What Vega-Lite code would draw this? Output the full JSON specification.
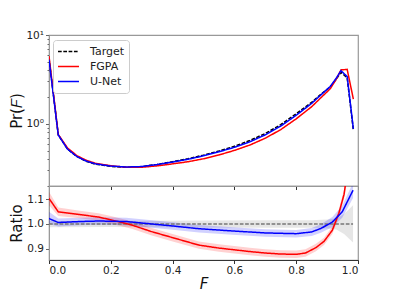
{
  "$schema": "https://vega.github.io/schema/vega-lite/v6.json",
  "padding": {"left": 8, "top": 29, "right": 5, "bottom": 2},
  "spacing": 0,
  "bounds": "flush",
  "background": "white",
  "config": {
    "font": "DejaVu Sans",
    "view": {"stroke": "#999999", "strokeWidth": 1.2},
    "axis": {
      "grid": false,
      "labelFont": "DejaVu Sans",
      "titleFont": "DejaVu Sans",
      "labelFontSize": 10.5,
      "labelColor": "#222222",
      "titleFontSize": 15,
      "titleFontWeight": "normal",
      "titleColor": "#111111",
      "domainColor": "#333333",
      "tickColor": "#333333",
      "tickSize": 3.5,
      "labelPadding": 2,
      "labelOverlap": false
    }
  },
  "resolve": {"scale": {"color": "independent", "strokeDash": "independent"}, "legend": {"color": "independent", "strokeDash": "independent"}},
  "datasets": {
    "pdf": [
      {"F": 0, "series": "Target", "Pr": 5.5}, {"F": 0, "series": "FGPA", "Pr": 5.8}, {"F": 0, "series": "U-Net", "Pr": 5.3},
      {"F": 0.03, "series": "Target", "Pr": 0.75}, {"F": 0.03, "series": "FGPA", "Pr": 0.76}, {"F": 0.03, "series": "U-Net", "Pr": 0.75},
      {"F": 0.06, "series": "Target", "Pr": 0.52}, {"F": 0.06, "series": "FGPA", "Pr": 0.535}, {"F": 0.06, "series": "U-Net", "Pr": 0.52},
      {"F": 0.09, "series": "Target", "Pr": 0.43}, {"F": 0.09, "series": "FGPA", "Pr": 0.44}, {"F": 0.09, "series": "U-Net", "Pr": 0.43},
      {"F": 0.12, "series": "Target", "Pr": 0.38}, {"F": 0.12, "series": "FGPA", "Pr": 0.39}, {"F": 0.12, "series": "U-Net", "Pr": 0.382},
      {"F": 0.15, "series": "Target", "Pr": 0.352}, {"F": 0.15, "series": "FGPA", "Pr": 0.36}, {"F": 0.15, "series": "U-Net", "Pr": 0.355},
      {"F": 0.2, "series": "Target", "Pr": 0.332}, {"F": 0.2, "series": "FGPA", "Pr": 0.338}, {"F": 0.2, "series": "U-Net", "Pr": 0.335},
      {"F": 0.25, "series": "Target", "Pr": 0.325}, {"F": 0.25, "series": "FGPA", "Pr": 0.325}, {"F": 0.25, "series": "U-Net", "Pr": 0.327},
      {"F": 0.3, "series": "Target", "Pr": 0.33}, {"F": 0.3, "series": "FGPA", "Pr": 0.325}, {"F": 0.3, "series": "U-Net", "Pr": 0.331},
      {"F": 0.35, "series": "Target", "Pr": 0.35}, {"F": 0.35, "series": "FGPA", "Pr": 0.337}, {"F": 0.35, "series": "U-Net", "Pr": 0.349},
      {"F": 0.4, "series": "Target", "Pr": 0.375}, {"F": 0.4, "series": "FGPA", "Pr": 0.355}, {"F": 0.4, "series": "U-Net", "Pr": 0.372},
      {"F": 0.45, "series": "Target", "Pr": 0.405}, {"F": 0.45, "series": "FGPA", "Pr": 0.375}, {"F": 0.45, "series": "U-Net", "Pr": 0.4},
      {"F": 0.5, "series": "Target", "Pr": 0.445}, {"F": 0.5, "series": "FGPA", "Pr": 0.405}, {"F": 0.5, "series": "U-Net", "Pr": 0.437},
      {"F": 0.55, "series": "Target", "Pr": 0.495}, {"F": 0.55, "series": "FGPA", "Pr": 0.447}, {"F": 0.55, "series": "U-Net", "Pr": 0.485},
      {"F": 0.6, "series": "Target", "Pr": 0.56}, {"F": 0.6, "series": "FGPA", "Pr": 0.503}, {"F": 0.6, "series": "U-Net", "Pr": 0.545},
      {"F": 0.65, "series": "Target", "Pr": 0.65}, {"F": 0.65, "series": "FGPA", "Pr": 0.578}, {"F": 0.65, "series": "U-Net", "Pr": 0.628},
      {"F": 0.7, "series": "Target", "Pr": 0.78}, {"F": 0.7, "series": "FGPA", "Pr": 0.69}, {"F": 0.7, "series": "U-Net", "Pr": 0.753},
      {"F": 0.75, "series": "Target", "Pr": 0.98}, {"F": 0.75, "series": "FGPA", "Pr": 0.862}, {"F": 0.75, "series": "U-Net", "Pr": 0.944},
      {"F": 0.8, "series": "Target", "Pr": 1.3}, {"F": 0.8, "series": "FGPA", "Pr": 1.14}, {"F": 0.8, "series": "U-Net", "Pr": 1.25},
      {"F": 0.85, "series": "Target", "Pr": 1.75}, {"F": 0.85, "series": "FGPA", "Pr": 1.56}, {"F": 0.85, "series": "U-Net", "Pr": 1.7},
      {"F": 0.88, "series": "Target", "Pr": 2.15}, {"F": 0.88, "series": "FGPA", "Pr": 1.97}, {"F": 0.88, "series": "U-Net", "Pr": 2.12},
      {"F": 0.91, "series": "Target", "Pr": 2.6}, {"F": 0.91, "series": "FGPA", "Pr": 2.48}, {"F": 0.91, "series": "U-Net", "Pr": 2.63},
      {"F": 0.93, "series": "Target", "Pr": 3.2}, {"F": 0.93, "series": "FGPA", "Pr": 3.2}, {"F": 0.93, "series": "U-Net", "Pr": 3.28},
      {"F": 0.945, "series": "Target", "Pr": 3.8}, {"F": 0.945, "series": "FGPA", "Pr": 4.05}, {"F": 0.945, "series": "U-Net", "Pr": 3.97},
      {"F": 0.965, "series": "Target", "Pr": 3.3}, {"F": 0.965, "series": "FGPA", "Pr": 4.1}, {"F": 0.965, "series": "U-Net", "Pr": 3.4},
      {"F": 0.985, "series": "Target", "Pr": 0.85}, {"F": 0.985, "series": "FGPA", "Pr": 1.9}, {"F": 0.985, "series": "U-Net", "Pr": 0.88}
    ],
    "ratio": [
      {"F": 0, "series": "Target", "ratio": 1.0, "lo": 0.987, "hi": 1.012},
      {"F": 0.2, "series": "Target", "ratio": 1.0, "lo": 0.988, "hi": 1.012},
      {"F": 0.5, "series": "Target", "ratio": 1.0, "lo": 0.986, "hi": 1.014},
      {"F": 0.7, "series": "Target", "ratio": 1.0, "lo": 0.985, "hi": 1.015},
      {"F": 0.85, "series": "Target", "ratio": 1.0, "lo": 0.985, "hi": 1.015},
      {"F": 0.9, "series": "Target", "ratio": 1.0, "lo": 0.982, "hi": 1.018},
      {"F": 0.93, "series": "Target", "ratio": 1.0, "lo": 0.978, "hi": 1.022},
      {"F": 0.955, "series": "Target", "ratio": 1.0, "lo": 0.96, "hi": 1.04},
      {"F": 0.984, "series": "Target", "ratio": 1.0, "lo": 0.925, "hi": 1.075},
      {"F": 0, "series": "FGPA", "ratio": 1.103, "lo": 1.075, "hi": 1.13},
      {"F": 0.03, "series": "FGPA", "ratio": 1.049, "lo": 1.032, "hi": 1.066},
      {"F": 0.1, "series": "FGPA", "ratio": 1.038, "lo": 1.023, "hi": 1.053},
      {"F": 0.16, "series": "FGPA", "ratio": 1.028, "lo": 1.013, "hi": 1.043},
      {"F": 0.2, "series": "FGPA", "ratio": 1.017, "lo": 1.002, "hi": 1.032},
      {"F": 0.27, "series": "FGPA", "ratio": 0.995, "lo": 0.98, "hi": 1.01},
      {"F": 0.33, "series": "FGPA", "ratio": 0.97, "lo": 0.955, "hi": 0.985},
      {"F": 0.4, "series": "FGPA", "ratio": 0.945, "lo": 0.93, "hi": 0.96},
      {"F": 0.485, "series": "FGPA", "ratio": 0.915, "lo": 0.9, "hi": 0.93},
      {"F": 0.55, "series": "FGPA", "ratio": 0.903, "lo": 0.888, "hi": 0.918},
      {"F": 0.6, "series": "FGPA", "ratio": 0.896, "lo": 0.881, "hi": 0.911},
      {"F": 0.65, "series": "FGPA", "ratio": 0.889, "lo": 0.874, "hi": 0.904},
      {"F": 0.7, "series": "FGPA", "ratio": 0.883, "lo": 0.868, "hi": 0.898},
      {"F": 0.75, "series": "FGPA", "ratio": 0.879, "lo": 0.864, "hi": 0.894},
      {"F": 0.8, "series": "FGPA", "ratio": 0.878, "lo": 0.863, "hi": 0.893},
      {"F": 0.83, "series": "FGPA", "ratio": 0.883, "lo": 0.868, "hi": 0.898},
      {"F": 0.864, "series": "FGPA", "ratio": 0.905, "lo": 0.89, "hi": 0.92},
      {"F": 0.89, "series": "FGPA", "ratio": 0.93, "lo": 0.915, "hi": 0.945},
      {"F": 0.917, "series": "FGPA", "ratio": 0.975, "lo": 0.96, "hi": 0.99},
      {"F": 0.938, "series": "FGPA", "ratio": 1.043, "lo": 1.028, "hi": 1.058},
      {"F": 0.955, "series": "FGPA", "ratio": 1.12, "lo": 1.1, "hi": 1.14},
      {"F": 0.97, "series": "FGPA", "ratio": 1.25, "lo": 1.22, "hi": 1.28},
      {"F": 0, "series": "U-Net", "ratio": 1.022, "lo": 1.0, "hi": 1.049},
      {"F": 0.03, "series": "U-Net", "ratio": 1.006, "lo": 0.99, "hi": 1.022},
      {"F": 0.1, "series": "U-Net", "ratio": 1.01, "lo": 0.995, "hi": 1.025},
      {"F": 0.16, "series": "U-Net", "ratio": 1.012, "lo": 0.997, "hi": 1.027},
      {"F": 0.25, "series": "U-Net", "ratio": 1.01, "lo": 0.995, "hi": 1.025},
      {"F": 0.4, "series": "U-Net", "ratio": 0.992, "lo": 0.977, "hi": 1.007},
      {"F": 0.485, "series": "U-Net", "ratio": 0.981, "lo": 0.966, "hi": 0.996},
      {"F": 0.593, "series": "U-Net", "ratio": 0.972, "lo": 0.957, "hi": 0.987},
      {"F": 0.7, "series": "U-Net", "ratio": 0.964, "lo": 0.949, "hi": 0.979},
      {"F": 0.8, "series": "U-Net", "ratio": 0.961, "lo": 0.946, "hi": 0.976},
      {"F": 0.85, "series": "U-Net", "ratio": 0.968, "lo": 0.952, "hi": 0.984},
      {"F": 0.88, "series": "U-Net", "ratio": 0.982, "lo": 0.965, "hi": 0.999},
      {"F": 0.917, "series": "U-Net", "ratio": 1.008, "lo": 0.988, "hi": 1.028},
      {"F": 0.949, "series": "U-Net", "ratio": 1.049, "lo": 1.025, "hi": 1.073},
      {"F": 0.984, "series": "U-Net", "ratio": 1.136, "lo": 1.105, "hi": 1.167}
    ]
  },
  "vconcat": [
    {
      "width": 309,
      "height": 151,
      "data": {"name": "pdf"},
      "mark": {"type": "line", "strokeWidth": 1.5, "clip": true},
      "encoding": {
        "x": {
          "field": "F", "type": "quantitative",
          "scale": {"domain": [0, 1], "nice": false},
          "axis": {"title": null, "labels": false, "values": [0, 0.2, 0.4, 0.6, 0.8, 1.0], "domainColor": "#333333"}
        },
        "y": {
          "field": "Pr", "type": "quantitative",
          "scale": {"type": "log", "domain": [0.2, 10], "nice": false},
          "axis": {
            "title": "Pr(𝐹)",
            "titleX": -25,
            "domainColor": "#999999",
            "tickColor": "#666666",
            "values": [0.2, 0.3, 0.4, 0.5, 0.6, 0.7, 0.8, 0.9, 1, 2, 3, 4, 5, 6, 7, 8, 9, 10],
            "labelExpr": "datum.value == 1 ? '10⁰' : (datum.value == 10 ? '10¹' : '')",
            "tickSize": {"condition": {"test": "datum.value == 1 || datum.value == 10", "value": 3.5}, "value": 2}
          }
        },
        "color": {
          "field": "series", "type": "nominal",
          "scale": {"domain": ["Target", "FGPA", "U-Net"], "range": ["#000000", "#ff0000", "#0000ff"]},
          "legend": {
            "title": null, "orient": "none", "legendX": 4, "legendY": 5,
            "symbolType": "stroke", "symbolSize": 440, "symbolStrokeWidth": 1.5,
            "labelFontSize": 11, "labelColor": "#222222", "labelOffset": 10,
            "clipHeight": 15, "rowPadding": 0, "padding": 4,
            "strokeColor": "#cccccc", "fillColor": "rgba(255,255,255,0.85)", "cornerRadius": 3
          }
        },
        "strokeDash": {
          "field": "series", "type": "nominal",
          "scale": {"domain": ["Target", "FGPA", "U-Net"], "range": [[3.7, 1.6], [1, 0], [1, 0]]},
          "legend": {
            "title": null, "orient": "none", "legendX": 4, "legendY": 5,
            "symbolType": "stroke", "symbolSize": 440, "symbolStrokeWidth": 1.5,
            "labelFontSize": 11, "labelColor": "#222222", "labelOffset": 10,
            "clipHeight": 15, "rowPadding": 0, "padding": 4,
            "strokeColor": "#cccccc", "fillColor": "rgba(255,255,255,0.85)", "cornerRadius": 3
          }
        }
      }
    },
    {
      "width": 309,
      "height": 74,
      "data": {"name": "ratio"},
      "encoding": {
        "x": {
          "field": "F", "type": "quantitative",
          "scale": {"domain": [0, 1], "nice": false},
          "axis": {"title": "F", "titleFontStyle": "italic", "values": [0, 0.2, 0.4, 0.6, 0.8, 1.0], "format": ".1f", "titlePadding": 0}
        }
      },
      "layer": [
        {
          "mark": {"type": "area", "opacity": 0.18, "clip": true},
          "encoding": {
            "y": {
              "field": "lo", "type": "quantitative",
              "scale": {"domain": [0.855, 1.153], "nice": false, "zero": false},
              "axis": {"title": "Ratio", "titleX": -25, "values": [0.9, 1, 1.1], "labelExpr": "format(datum.value, '.1f')", "labelOverlap": false, "domainColor": "#999999", "tickColor": "#666666"}
            },
            "y2": {"field": "hi"},
            "color": {
              "field": "series", "type": "nominal",
              "scale": {"domain": ["Target", "FGPA", "U-Net"], "range": ["#777777", "#ff0000", "#0000ff"]},
              "legend": null
            }
          }
        },
        {
          "mark": {"type": "line", "strokeWidth": 1.5, "clip": true},
          "encoding": {
            "y": {
              "field": "ratio", "type": "quantitative",
              "scale": {"domain": [0.855, 1.153], "nice": false, "zero": false},
              "axis": {"title": "Ratio", "titleX": -25, "values": [0.9, 1, 1.1], "labelExpr": "format(datum.value, '.1f')", "labelOverlap": false, "domainColor": "#999999", "tickColor": "#666666"}
            },
            "color": {
              "field": "series", "type": "nominal",
              "scale": {"domain": ["Target", "FGPA", "U-Net"], "range": ["#444444", "#ff0000", "#0000ff"]},
              "legend": null
            },
            "strokeDash": {
              "field": "series", "type": "nominal",
              "scale": {"domain": ["Target", "FGPA", "U-Net"], "range": [[3.7, 1.6], [1, 0], [1, 0]]},
              "legend": null
            }
          }
        }
      ]
    }
  ]
}
